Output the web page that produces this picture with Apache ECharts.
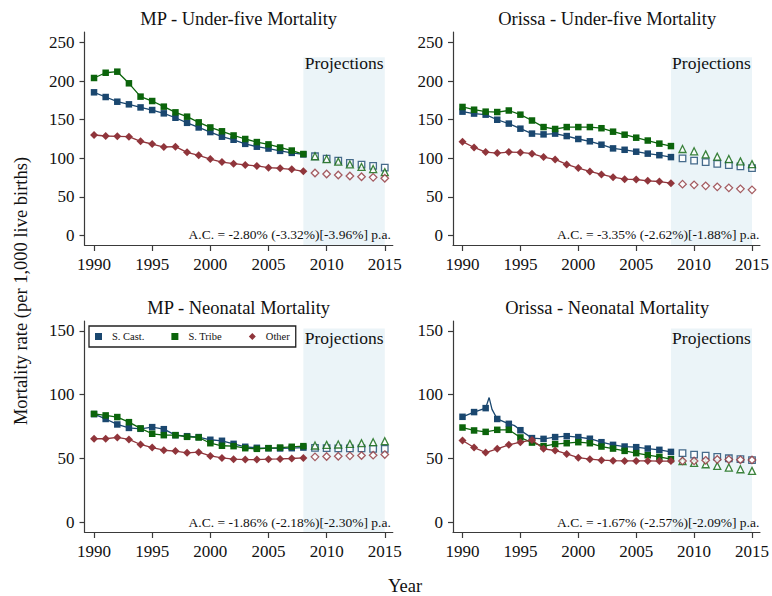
<!DOCTYPE html>
<html>
<head>
<meta charset="utf-8">
<script src="https://cdn.jsdelivr.net/npm/echarts@6/dist/echarts.min.js"></script>
<style>
  html, body { margin: 0; padding: 0; background: #fff; }
  #chart { width: 772px; height: 596px; }
</style>
</head>
<body>
<div id="chart"></div>
<script>
// Observed years and projection years
const years = [1990, 1991, 1992, 1993, 1994, 1995, 1996, 1997, 1998, 1999,
               2000, 2001, 2002, 2003, 2004, 2005, 2006, 2007, 2008];
const projYears = [2009, 2010, 2011, 2012, 2013, 2014, 2015];

// Tick labels
const xTicks = [1990, 1995, 2000, 2005, 2010, 2015];
const u5Ticks = [0, 50, 100, 150, 200, 250];
const nnTicks = [0, 50, 100, 150];

// Group names
const groupNames = ['S. Cast.', 'S. Tribe', 'Other'];

// Panel titles and annual-change notes
const panelTitles = ['MP - Under-five Mortality', 'Orissa - Under-five Mortality',
                     'MP - Neonatal Mortality', 'Orissa - Neonatal Mortality'];
const changeNotes = ['A.C. = -2.80% (-3.32%)[-3.96%] p.a.',
                     'A.C. = -3.35% (-2.62%)[-1.88%] p.a.',
                     'A.C. = -1.86% (-2.18%)[-2.30%] p.a.',
                     'A.C. = -1.67% (-2.57%)[-2.09%] p.a.'];

// MP - under-five mortality
const mpU5Cast  = [185.6, 179.5, 173.4, 170.0, 166.0, 162.6, 158.3, 152.6, 146.0, 140.0,
                   134.0, 128.0, 124.0, 118.7, 115.0, 112.6, 109.6, 107.0, 105.0];
const mpU5Tribe = [204.2, 211.0, 212.4, 197.3, 180.0, 174.3, 167.0, 159.6, 154.0, 146.6,
                   140.0, 135.0, 129.6, 125.0, 121.0, 118.0, 114.0, 110.0, 105.5];
const mpU5Other = [130.2, 128.9, 128.5, 128.0, 122.0, 118.5, 114.6, 115.0, 107.7, 103.8,
                   99.0, 95.0, 93.0, 91.3, 90.0, 87.8, 87.0, 85.7, 83.0];
const mpU5CastProj  = [102.6, 99.6, 97.0, 94.0, 91.7, 90.0, 87.8];
const mpU5TribeProj = [102.6, 99.0, 95.6, 92.0, 88.7, 86.0, 82.0];
const mpU5OtherProj = [80.9, 79.6, 78.3, 77.0, 76.0, 75.2, 74.0];

// Orissa - under-five mortality
const orU5Cast  = [160.5, 158.0, 156.6, 150.0, 145.0, 138.4, 132.0, 131.0, 132.0, 128.8,
                   125.0, 122.0, 117.6, 112.8, 111.0, 108.5, 106.0, 104.0, 101.5];
const orU5Tribe = [166.6, 163.0, 160.5, 160.0, 162.0, 156.6, 149.0, 140.5, 138.0, 140.5,
                   140.5, 140.5, 139.0, 134.5, 130.6, 126.7, 123.0, 119.0, 115.8];
const orU5Other = [121.5, 114.0, 108.0, 106.7, 108.0, 107.6, 106.0, 101.5, 98.5, 92.0,
                   87.2, 82.9, 79.0, 75.5, 72.9, 72.4, 70.7, 69.8, 67.7];
const orU5CastProj  = [99.8, 97.0, 95.0, 92.8, 91.0, 89.4, 87.2];
const orU5TribeProj = [112.0, 109.0, 105.0, 102.0, 99.0, 96.0, 92.4];
const orU5OtherProj = [66.4, 65.5, 64.2, 62.9, 61.6, 60.3, 59.0];

// MP - neonatal mortality
const mpNnCast  = [84.8, 81.0, 76.7, 74.0, 73.3, 74.6, 73.0, 68.3, 67.5, 66.8,
                   64.7, 63.9, 61.5, 59.2, 58.4, 58.1, 57.9, 58.1, 58.6];
const mpNnTribe = [85.0, 83.8, 82.5, 78.5, 73.6, 69.4, 68.3, 68.3, 67.0, 66.5,
                   62.0, 60.0, 59.7, 58.1, 57.6, 58.1, 58.6, 59.2, 59.7];
const mpNnOther = [65.5, 65.5, 66.5, 65.0, 61.0, 58.6, 56.5, 55.8, 54.5, 55.0,
                   52.0, 50.5, 49.5, 49.2, 49.2, 49.5, 49.7, 50.0, 50.5];
const mpNnCastProj  = [58.4, 58.1, 57.9, 57.9, 57.9, 57.6, 57.6];
const mpNnTribeProj = [60.2, 60.7, 61.0, 61.5, 62.0, 62.8, 63.6];
const mpNnOtherProj = [51.3, 51.6, 51.8, 52.1, 52.4, 52.6, 53.1];

// Orissa - neonatal mortality
const orNnCast  = [82.7, 86.4, 89.5, 81.0, 77.2, 72.2, 66.0, 65.4, 66.8, 67.5,
                   66.8, 65.5, 62.8, 60.7, 59.4, 58.9, 57.8, 56.8, 55.2];
// sub-annual points on the S. Cast. trace (no marker)
const orNnCastTrace = [[1992.3, 97.8], [1992.55, 88.5], [1994.45, 76.0], [1994.65, 74.8]];
const orNnTribe = [74.3, 72.0, 70.9, 72.5, 72.5, 66.5, 62.5, 59.7, 61.3, 62.0,
                   62.8, 62.0, 59.4, 57.8, 56.0, 54.2, 52.6, 51.3, 49.5];
const orNnOther = [64.1, 58.6, 54.7, 57.6, 60.7, 62.8, 64.5, 57.6, 56.3, 53.6,
                   50.7, 49.5, 48.7, 48.3, 48.1, 48.1, 48.1, 48.0, 48.0];
const orNnCastProj  = [54.2, 53.1, 52.3, 51.3, 50.2, 49.5, 48.7];
const orNnTribeProj = [47.9, 46.6, 45.5, 44.2, 42.9, 41.6, 40.3];
const orNnOtherProj = [48.1, 48.1, 48.6, 49.2, 49.2, 49.0, 48.9];

// Top of the shaded projection band, per panel
const bandTop = [231, 231, 152, 152];

// ---- styling ----
const FONT = "'Liberation Serif', 'DejaVu Serif', serif";
const COLORS = ['#1a476f', '#0b640b', '#90353b'];
const FILLED = ['rect', 'rect', 'diamond'];
const FILLED_SIZE = [6.5, 6.5, 8];
const HOLLOW = ['rect', 'triangle', 'diamond'];
const HOLLOW_SIZE = [6.5, 7, 7.5];
const AXIS_COLOR = '#3a3a3a';

const X_MIN = 1989.18, X_MAX = 2015.69;
const grids = [
  { left: 84.5, top: 32, width: 308.3, height: 213 },
  { left: 453.0, top: 32, width: 308.3, height: 213 },
  { left: 84.5, top: 321, width: 308.3, height: 211 },
  { left: 453.0, top: 321, width: 308.3, height: 211 }
];
const yRanges = [[-12.6, 263.9], [-12.6, 263.9], [-7.6, 157.8], [-7.6, 157.8]];
const yTickSets = [u5Ticks, u5Ticks, nnTicks, nnTicks];

const panels = [
  { hist: [mpU5Cast, mpU5Tribe, mpU5Other], proj: [mpU5CastProj, mpU5TribeProj, mpU5OtherProj] },
  { hist: [orU5Cast, orU5Tribe, orU5Other], proj: [orU5CastProj, orU5TribeProj, orU5OtherProj] },
  { hist: [mpNnCast, mpNnTribe, mpNnOther], proj: [mpNnCastProj, mpNnTribeProj, mpNnOtherProj] },
  { hist: [orNnCast, orNnTribe, orNnOther], proj: [orNnCastProj, orNnTribeProj, orNnOtherProj],
    trace: { 0: orNnCastTrace } }
];

function pairs(xs, ys) { return xs.map((x, i) => [x, ys[i]]); }
const plain = v => String(v);

const xAxes = grids.map((g, i) => ({
  type: 'value', gridIndex: i, min: X_MIN, max: X_MAX,
  axisLine: { show: true, onZero: false, lineStyle: { color: AXIS_COLOR, width: 1.2 } },
  axisTick: { show: true, length: 6, customValues: xTicks, lineStyle: { color: AXIS_COLOR, width: 1.2 } },
  axisLabel: { customValues: xTicks, formatter: plain, margin: 11, fontSize: 17, fontFamily: FONT, color: '#111' },
  splitLine: { show: false }
}));

const yAxes = grids.map((g, i) => ({
  type: 'value', gridIndex: i, min: yRanges[i][0], max: yRanges[i][1],
  axisLine: { show: true, onZero: false, lineStyle: { color: AXIS_COLOR, width: 1.2 } },
  axisTick: { show: true, length: 5, customValues: yTickSets[i], lineStyle: { color: AXIS_COLOR, width: 1.2 } },
  axisLabel: { customValues: yTickSets[i], formatter: plain, margin: 10, fontSize: 17, fontFamily: FONT, color: '#111' },
  splitLine: { show: false }
}));

const series = [];
panels.forEach((p, gi) => {
  // shaded projection band
  series.push({
    type: 'line', xAxisIndex: gi, yAxisIndex: gi, data: [], z: 1, silent: true,
    markArea: {
      silent: true,
      itemStyle: { color: '#ebf4f8' },
      label: {
        show: true, position: 'insideTop', distance: gi < 2 ? -3 : 1,
        fontSize: 17.5, fontFamily: FONT, color: '#111'
      },
      data: [[
        { name: 'Projections', xAxis: 2008, yAxis: yRanges[gi][0] },
        { xAxis: 2015, yAxis: bandTop[gi] }
      ]]
    }
  });
  // observed series: line + filled markers
  p.hist.forEach((vals, k) => {
    let data = pairs(years, vals);
    const extra = p.trace && p.trace[k];
    if (extra) {
      data = data.concat(extra.map(pt => ({ value: pt, symbol: 'none' })));
      data.sort((a, b) => (a.value || a)[0] - (b.value || b)[0]);
    }
    series.push({
      name: groupNames[k], type: 'line', xAxisIndex: gi, yAxisIndex: gi,
      data: data, showSymbol: true, symbol: FILLED[k], symbolSize: FILLED_SIZE[k],
      z: 3 + k,
      lineStyle: { color: COLORS[k], width: 1.3 },
      itemStyle: { color: COLORS[k], borderWidth: 0 },
      emphasis: { disabled: true }
    });
  });
  // projected values: hollow markers
  p.proj.forEach((vals, k) => {
    series.push({
      name: groupNames[k] + ' projected', type: 'scatter', xAxisIndex: gi, yAxisIndex: gi,
      data: pairs(projYears, vals), symbol: HOLLOW[k], symbolSize: HOLLOW_SIZE[k],
      z: 3 + k,
      itemStyle: { color: '#fff', borderColor: COLORS[k], borderWidth: 1.3 },
      emphasis: { disabled: true }
    });
  });
});

const graphic = [];
grids.forEach((g, i) => {
  graphic.push({
    type: 'text', z: 100, x: g.left + g.width / 2, y: i < 2 ? 19 : 308,
    style: { text: panelTitles[i], align: 'center', verticalAlign: 'middle',
             textAlign: 'center', textVerticalAlign: 'middle',
             fontSize: 18.5, fontFamily: FONT, fill: '#111' }
  });
  graphic.push({
    type: 'text', z: 100, x: g.left + g.width - 2, y: i < 2 ? 234.5 : 522,
    style: { text: changeNotes[i], align: 'right', verticalAlign: 'middle',
             textAlign: 'right', textVerticalAlign: 'middle',
             fontSize: 13.5, fontFamily: FONT, fill: '#111' }
  });
});
graphic.push({
  type: 'text', z: 100, x: 21, y: 291, rotation: Math.PI / 2,
  style: { text: 'Mortality rate (per 1,000 live births)', align: 'center', verticalAlign: 'middle',
           textAlign: 'center', textVerticalAlign: 'middle',
           fontSize: 18.5, fontFamily: FONT, fill: '#111' }
});
graphic.push({
  type: 'text', z: 100, x: 405, y: 586,
  style: { text: 'Year', align: 'center', verticalAlign: 'middle',
           textAlign: 'center', textVerticalAlign: 'middle',
           fontSize: 18.5, fontFamily: FONT, fill: '#111' }
});

const option = {
  animation: false,
  backgroundColor: '#fff',
  grid: grids.map(g => Object.assign({ containLabel: false }, g)),
  xAxis: xAxes,
  yAxis: yAxes,
  legend: {
    left: 89, top: 326, orient: 'horizontal',
    padding: [5, 6, 5, 6], itemGap: 27, itemWidth: 7, itemHeight: 7,
    backgroundColor: '#fff', borderColor: '#222', borderWidth: 1.3, borderRadius: 0,
    selectedMode: false,
    textStyle: { fontSize: 10.5, fontFamily: FONT, color: '#111', padding: [0, 0, 0, 5] },
    data: [
      { name: groupNames[0], icon: FILLED[0] },
      { name: groupNames[1], icon: FILLED[1] },
      { name: groupNames[2], icon: FILLED[2] }
    ]
  },
  series: series,
  graphic: graphic
};

const chart = echarts.init(document.getElementById('chart'), null, { renderer: 'svg' });
chart.setOption(option);
</script>
</body>
</html>
